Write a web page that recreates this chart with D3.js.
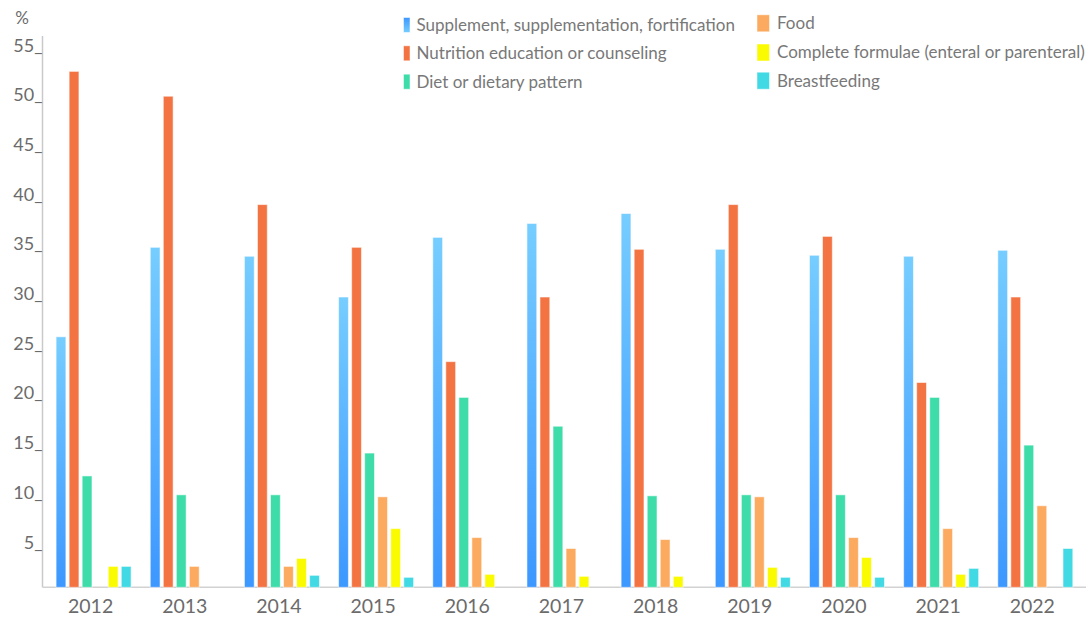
<!DOCTYPE html>
<html>
<head>
<meta charset="utf-8">
<script src="https://cdn.jsdelivr.net/npm/d3@7"></script>
<style>
  html, body { margin: 0; padding: 0; background: #fff; }
  svg { display: block; }
  text { font-family: Lato, "Open Sans", sans-serif; }
</style>
</head>
<body>
<svg id="chart" width="1092" height="619"></svg>
<script>
// ---- data ----
const years = ["2012","2013","2014","2015","2016","2017","2018","2019","2020","2021","2022"];
const seriesNames = [
  "Supplement, supplementation, fortification",
  "Nutrition education or counseling",
  "Diet or dietary pattern",
  "Food",
  "Complete formulae (enteral or parenteral)",
  "Breastfeeding"
];
const supplement    = [26.4, 35.4, 34.5, 30.4, 36.4, 37.8, 38.8, 35.2, 34.6, 34.5, 35.1];
const education     = [53.1, 50.6, 39.7, 35.4, 23.9, 30.4, 35.2, 39.7, 36.5, 21.8, 30.4];
const diet          = [12.4, 10.5, 10.5, 14.7, 20.3, 17.4, 10.4, 10.5, 10.5, 20.3, 15.5];
const food          = [null, 3.3, 3.3, 10.3, 6.2, 5.1, 6.0, 10.3, 6.2, 7.1, 9.4];
const formulae      = [3.3, null, 4.1, 7.1, 2.5, 2.3, 2.3, 3.2, 4.2, 2.5, null];
const breastfeeding = [3.3, null, 2.4, 2.2, null, null, null, 2.2, 2.2, 3.1, 5.1];
const yTicks = [5, 10, 15, 20, 25, 30, 35, 40, 45, 50, 55];

const seriesValues = [supplement, education, diet, food, formulae, breastfeeding];
const colors = ["url(#blueGrad)", "#F37342", "#3DDCA8", "#FBAA5F", "#FAFA00", "#41D9E3"];

// ---- layout ----
const svg = d3.select("#chart");
const axisX = 42.5, baseY = 587.3;

const defs = svg.append("defs");
const g1 = defs.append("linearGradient").attr("id", "blueGrad")
  .attr("x1", 0).attr("y1", 0).attr("x2", 0).attr("y2", 1);
g1.append("stop").attr("offset", "0%").attr("stop-color", "#76CDFF");
g1.append("stop").attr("offset", "100%").attr("stop-color", "#3C97FF");
const g2 = defs.append("linearGradient").attr("id", "blueGradLegend")
  .attr("x1", 0).attr("y1", 0).attr("x2", 0).attr("y2", 1);
g2.append("stop").attr("offset", "0%").attr("stop-color", "#3C97FF");
g2.append("stop").attr("offset", "100%").attr("stop-color", "#76CDFF");

const y = d3.scaleLinear().domain([0, 55]).range([599.2, 52.5]);
const x0 = d3.scaleBand().domain(years).range([46.5, 1082.4]).padding(0);
const groupW = 75;
const x1 = d3.scaleBand().domain(d3.range(seriesNames.length)).range([0, groupW]).paddingInner(0.248).paddingOuter(0);

// axes lines
svg.append("line").attr("x1", axisX).attr("x2", axisX).attr("y1", 36).attr("y2", baseY)
  .attr("stroke", "#c9c9c9").attr("stroke-width", 1.5);
svg.append("line").attr("x1", axisX).attr("x2", 1086).attr("y1", baseY).attr("y2", baseY)
  .attr("stroke", "#d2d2d2").attr("stroke-width", 1.5);

// y tick labels
svg.append("g").selectAll("text").data(yTicks).join("text")
  .attr("x", axisX).attr("y", d => y(d) - 1)
  .attr("text-anchor", "end")
  .attr("fill", "#6b6b6b").attr("font-size", 18)
  .text(d => d + "_");

svg.append("text").attr("x", 22).attr("y", 24).attr("text-anchor", "middle")
  .attr("fill", "#6b6b6b").attr("font-size", 17).text("%");

// x labels
svg.append("g").selectAll("text").data(years).join("text")
  .attr("x", d => x0(d) + x0.bandwidth() / 2 - 3)
  .attr("y", 613)
  .attr("text-anchor", "middle")
  .attr("fill", "#6b6b6b").attr("font-size", 19.5)
  .text(d => d);

// bars
const groups = svg.append("g").selectAll("g").data(years).join("g")
  .attr("transform", d => `translate(${x0(d) + x0.bandwidth() / 2 - groupW / 2},0)`);

groups.selectAll("rect")
  .data((yr, i) => seriesValues.map((arr, s) => ({ s, v: arr[i] })).filter(d => d.v != null))
  .join("rect")
  .attr("x", d => x1(d.s))
  .attr("width", x1.bandwidth())
  .attr("y", d => y(d.v))
  .attr("height", d => baseY - y(d.v))
  .attr("fill", d => colors[d.s])
  .attr("stroke", "rgba(255,255,255,0.55)")
  .attr("stroke-width", 1);

// legend
const legendCols = [
  { rx: 403.5, rw: 6.5, rh: 15, tx: 416.5, rows: [25, 53.3, 81.7] },
  { rx: 757, rw: 12.5, rh: 17, tx: 777, rows: [23.3, 52.5, 80.7] }
];
const legendFills = ["url(#blueGradLegend)", "#F37342", "#3DDCA8", "#FBAA5F", "#FAFA00", "#41D9E3"];
const legend = svg.append("g");
seriesNames.forEach((name, i) => {
  const col = legendCols[Math.floor(i / 3)];
  const cy = col.rows[i % 3];
  legend.append("rect").attr("x", col.rx).attr("y", cy - col.rh / 2)
    .attr("width", col.rw).attr("height", col.rh).attr("fill", legendFills[i])
    .attr("stroke", "rgba(255,255,255,0.5)");
  legend.append("text").attr("x", col.tx).attr("y", cy).attr("dy", "0.35em")
    .attr("fill", "#787878").attr("font-size", 17).text(name);
});
</script>
</body>
</html>
